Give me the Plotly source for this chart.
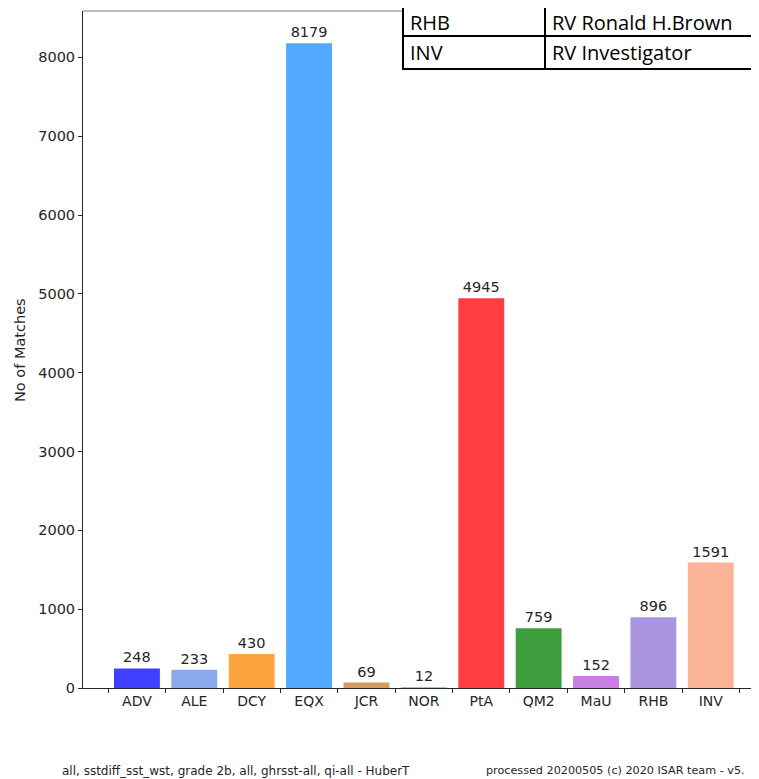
import plotly.graph_objects as go

categories = ["ADV", "ALE", "DCY", "EQX", "JCR", "NOR", "PtA", "QM2", "MaU", "RHB", "INV"]
matches = [248, 233, 430, 8179, 69, 12, 4945, 759, 152, 896, 1591]
bar_colors = ["#3f3fff", "#8aa9ef", "#fca53f", "#52a8ff", "#d49b62", "#f6a78c",
              "#fe3e40", "#3f9f3f", "#c97ee1", "#aa95e3", "#fdb59a"]
table_codes = ["RHB", "INV"]
table_names = ["RV Ronald H.Brown", "RV Investigator"]
footer_left = "all, sstdiff_sst_wst, grade 2b, all, ghrsst-all, qi-all - HuberT"
footer_right = "processed 20200505 (c) 2020 ISAR team - v5."

# page body has an 8px margin; work in reference pixels and shift
OFF = 8
W, H = 759 - OFF, 779 - OFF
L, T = 83 - OFF, 11 - OFF
B = H - (688 - OFF)
R = 0
pw, ph = W - L - R, H - T - B

def px(x):
    return (x - OFF - L) / pw

def py(y):
    return 1 - (y - OFF - T) / ph

fig = go.Figure()
fig.add_trace(go.Bar(
    x=categories, y=matches, width=0.8,
    marker=dict(color=bar_colors, line=dict(width=0)),
    texttemplate="%{y}", textposition="outside", cliponaxis=False,
    textfont=dict(family="DejaVu Sans", size=14.5, color="#262626"),
))

fig.update_layout(
    width=W, height=H,
    margin=dict(l=L, r=R, t=T, b=B),
    paper_bgcolor="white", plot_bgcolor="white",
    showlegend=False,
    font=dict(family="DejaVu Sans", size=14, color="#262626"),
    xaxis=dict(type="category", range=[-0.94, 10.84], tickson="boundaries",
               ticks="outside", ticklen=4, tickcolor="#262626",
               showline=True, linecolor="#262626", linewidth=1,
               showgrid=False, zeroline=False,
               tickfont=dict(family="DejaVu Sans", size=14, color="#262626")),
    yaxis=dict(range=[0, 8588], tickvals=list(range(0, 9000, 1000)),
               ticks="outside", ticklen=4, tickcolor="#262626",
               showline=True, linecolor="#262626", linewidth=1,
               showgrid=False, zeroline=False,
               tickfont=dict(family="DejaVu Sans", size=14.5, color="#262626")),
)

shapes = []
# top spine
shapes.append(dict(type="line", xref="paper", yref="paper", x0=0, x1=1, y0=1, y1=1,
                   line=dict(color="#777777", width=1)))
# table background and borders
shapes.append(dict(type="rect", xref="paper", yref="paper",
                   x0=px(403), x1=px(770), y0=py(69), y1=py(-5),
                   fillcolor="white", line=dict(width=0), layer="above"))
for yy in [36, 69]:
    shapes.append(dict(type="line", xref="paper", yref="paper",
                       x0=px(403), x1=px(770), y0=py(yy), y1=py(yy),
                       line=dict(color="black", width=2), layer="above"))
for xx in [403, 545]:
    shapes.append(dict(type="line", xref="paper", yref="paper",
                       x0=px(xx), x1=px(xx), y0=py(70), y1=py(-5),
                       line=dict(color="black", width=2), layer="above"))
fig.update_layout(shapes=shapes)

ann = []
row_centers = [22, 52]
for code, name, yc in zip(table_codes, table_names, row_centers):
    ann.append(dict(text=code, xref="paper", yref="paper", x=px(408), y=py(yc),
                    xanchor="left", yanchor="middle", showarrow=False,
                    font=dict(family="Open Sans", size=20, color="black")))
    ann.append(dict(text=name, xref="paper", yref="paper", x=px(550), y=py(yc),
                    xanchor="left", yanchor="middle", showarrow=False,
                    font=dict(family="Open Sans", size=20, color="black")))
ann.append(dict(text="No of Matches", xref="paper", yref="paper", x=px(20), y=py(350),
                xanchor="center", yanchor="middle", textangle=-90, showarrow=False,
                font=dict(family="DejaVu Sans", size=14.5, color="#262626")))
ann.append(dict(text=footer_left, xref="paper", yref="paper", x=px(60), y=py(771),
                xanchor="left", yanchor="middle", showarrow=False,
                font=dict(family="DejaVu Sans", size=12, color="#262626")))
ann.append(dict(text=footer_right, xref="paper", yref="paper", x=px(484), y=py(771),
                xanchor="left", yanchor="middle", showarrow=False,
                font=dict(family="DejaVu Sans", size=11.2, color="#262626")))
fig.update_layout(annotations=ann)

fig.write_html("out.html")
